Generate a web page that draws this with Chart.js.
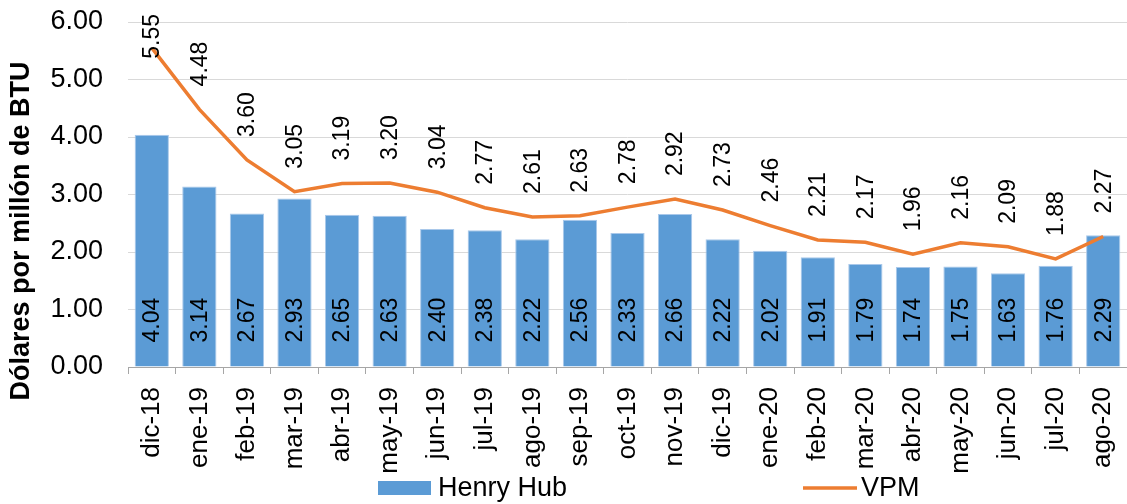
<!DOCTYPE html>
<html>
<head>
<meta charset="utf-8">
<script src="https://cdn.jsdelivr.net/npm/chart.js@4.4.1/dist/chart.umd.min.js"></script>
<style>
  html, body { margin: 0; padding: 0; background: #fff; }
  canvas { display: block; }
</style>
</head>
<body>
<canvas id="chart" width="1127" height="504"></canvas>
<script>
const months = [
  "dic-18", "ene-19", "feb-19", "mar-19", "abr-19", "may-19", "jun-19",
  "jul-19", "ago-19", "sep-19", "oct-19", "nov-19", "dic-19", "ene-20",
  "feb-20", "mar-20", "abr-20", "may-20", "jun-20", "jul-20", "ago-20",
];
const henryHub = [
  4.04, 3.14, 2.67, 2.93, 2.65, 2.63, 2.40, 2.38, 2.22, 2.56, 2.33,
  2.66, 2.22, 2.02, 1.91, 1.79, 1.74, 1.75, 1.63, 1.76, 2.29,
];
const vpm = [
  5.55, 4.48, 3.60, 3.05, 3.19, 3.20, 3.04, 2.77, 2.61, 2.63, 2.78,
  2.92, 2.73, 2.46, 2.21, 2.17, 1.96, 2.16, 2.09, 1.88, 2.27,
];
const yTicks = [0, 1, 2, 3, 4, 5, 6];

const FONT = "'Liberation Sans', Arial, sans-serif";
const BLUE = "#5b9bd5";
const ORANGE = "#ed7d31";

// drop the extra room chart.js keeps for tick labels
const noPadding = (scale) => {
  scale.paddingTop = 0;
  scale.paddingBottom = 0;
  scale.paddingLeft = 0;
  scale.paddingRight = 0;
};

// vertical value labels, legend and axis title
const labelsPlugin = {
  id: "labels",
  afterDatasetsDraw(chart) {
    const ctx = chart.ctx;
    ctx.save();
    ctx.font = `23px ${FONT}`;
    ctx.fillStyle = "#000";
    ctx.textAlign = "left";
    ctx.textBaseline = "middle";

    chart.data.datasets.forEach((ds, i) => {
      const meta = chart.getDatasetMeta(i);
      meta.data.forEach((el, j) => {
        const text = ds.data[j].toFixed(2);
        const w = ctx.measureText(text).width;
        let start;
        if (ds.type === "bar") {
          start = el.base - 24;
        } else {
          start = el.y - 23;
          if (start - w < 14) start = 14 + w;
        }
        ctx.save();
        ctx.translate(el.x + 1, start);
        ctx.rotate(-Math.PI / 2);
        ctx.fillText(text, 0, 0);
        ctx.restore();
      });
    });
    ctx.restore();
  },
  afterDraw(chart) {
    const ctx = chart.ctx;
    ctx.save();
    // y axis title
    ctx.font = `bold 27px ${FONT}`;
    ctx.fillStyle = "#000";
    ctx.textAlign = "center";
    ctx.textBaseline = "middle";
    ctx.translate(22, 231);
    ctx.rotate(-Math.PI / 2);
    ctx.fillText("Dólares por millón de BTU", 0, 0);
    ctx.restore();

    // legend
    ctx.save();
    ctx.font = `27px ${FONT}`;
    ctx.textAlign = "left";
    ctx.textBaseline = "middle";
    ctx.fillStyle = BLUE;
    ctx.fillRect(378, 481, 53, 14);
    ctx.fillStyle = "#000";
    ctx.fillText(chart.data.datasets[1].label, 438, 489);
    ctx.strokeStyle = ORANGE;
    ctx.lineWidth = 3.5;
    ctx.beginPath();
    ctx.moveTo(803, 488);
    ctx.lineTo(857, 488);
    ctx.stroke();
    ctx.fillText(chart.data.datasets[0].label, 861, 489);
    ctx.restore();
  },
};

new Chart(document.getElementById("chart"), {
  data: {
    labels: months,
    datasets: [
      {
        type: "line",
        label: "VPM",
        data: vpm,
        borderColor: ORANGE,
        backgroundColor: ORANGE,
        borderWidth: 3.5,
        pointRadius: 0,
        tension: 0,
        order: 0,
      },
      {
        type: "bar",
        label: "Henry Hub",
        data: henryHub,
        backgroundColor: BLUE,
        borderColor: "#a9c8ea",
        borderWidth: 1,
        barPercentage: 0.72,
        categoryPercentage: 1,
        order: 1,
      },
    ],
  },
  options: {
    responsive: false,
    animation: false,
    layout: { padding: { top: 22, right: 0, bottom: 0, left: 0 } },
    plugins: {
      legend: { display: false },
      tooltip: { enabled: false },
    },
    scales: {
      x: {
        offset: true,
        grid: {
          offset: true,
          drawOnChartArea: false,
          drawTicks: true,
          tickLength: 7,
          color: "#a6a6a6",
        },
        border: { display: true, color: "#a6a6a6" },
        ticks: {
          font: { size: 26, family: FONT },
          color: "#000",
          minRotation: 90,
          maxRotation: 90,
          padding: 13,
          autoSkip: false,
        },
        afterFit: (scale) => {
          scale.height = 137;
          noPadding(scale);
        },
      },
      y: {
        min: yTicks[0],
        max: yTicks[yTicks.length - 1],
        afterBuildTicks: (scale) => {
          scale.ticks = yTicks.map((v) => ({ value: v }));
        },
        grid: { color: "#d9d9d9", drawTicks: false },
        border: { display: false },
        ticks: {
          font: { size: 27, family: FONT },
          color: "#000",
          padding: 25,
          callback: (v) => Number(v).toFixed(2),
        },
        afterFit: (scale) => {
          scale.width = 128;
          noPadding(scale);
        },
      },
    },
  },
  plugins: [labelsPlugin],
});
</script>
</body>
</html>
